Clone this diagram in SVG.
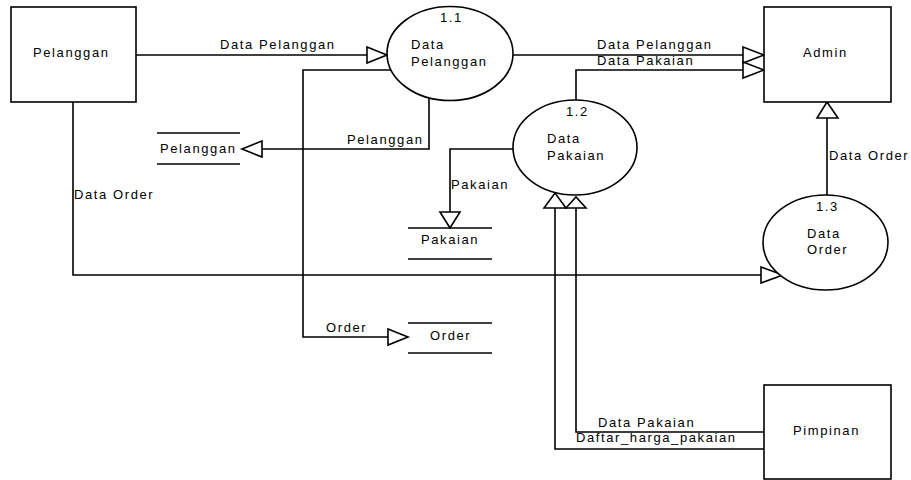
<svg xmlns="http://www.w3.org/2000/svg" width="911" height="480" viewBox="0 0 911 480">
<style>
.box{fill:#fff;stroke:#000;stroke-width:1.6}
.proc{fill:#fff;stroke:#000;stroke-width:1.6}
.ln{fill:none;stroke:#000;stroke-width:1.6}
.ah{fill:#fff;stroke:#000;stroke-width:1.6;stroke-linejoin:miter}
text{font-family:"Liberation Sans",Arial,sans-serif;font-size:13px;letter-spacing:1.6px;fill:#000}
</style>
<rect width="911" height="480" fill="#fff"/>
<g id="connectors">
<!-- Pelanggan -> 1.1 -->
<polyline class="ln" points="136,55 367,55"/>
<polygon class="ah" points="367,47 387,55 367,63"/>
<text x="220" y="49">Data Pelanggan</text>
<!-- 1.1 -> Admin -->
<polyline class="ln" points="513,55 743,55"/>
<polygon class="ah" points="743,47 764,55 743,63"/>
<text x="597" y="49">Data Pelanggan</text>
<!-- 1.2 -> Admin -->
<polyline class="ln" points="576,100 576,70 743,70"/>
<polygon class="ah" points="743,62 764,70 743,78"/>
<text x="597" y="65">Data Pakaian</text>
<!-- 1.1 -> Order store -->
<polyline class="ln" points="391,70 303,70 303,337 388,337"/>
<polygon class="ah" points="388,329 408,337 388,345"/>
<text x="326" y="332">Order</text>
<!-- 1.1 -> Pelanggan store -->
<polyline class="ln" points="429,98 429,149 262,149"/>
<polygon class="ah" points="262,141 242,149 262,157"/>
<text x="347" y="144">Pelanggan</text>
<!-- Pelanggan -> 1.3 -->
<polyline class="ln" points="73,102 73,275 761,275"/>
<polygon class="ah" points="761,267 783,275 761,283"/>
<text x="74" y="199">Data Order</text>
<!-- 1.3 -> Admin -->
<polyline class="ln" points="827,195 827,118"/>
<polygon class="ah" points="817,118 827,102 838,118"/>
<text x="829" y="160">Data Order</text>
<!-- 1.2 -> Pakaian store -->
<polyline class="ln" points="513,149 450,149 450,212"/>
<polygon class="ah" points="440,212 450,228 460,212"/>
<text x="451" y="189">Pakaian</text>
<!-- Pimpinan -> 1.2 (Data Pakaian) -->
<polyline class="ln" points="764,432 576,432 576,208"/>
<polygon class="ah" points="566,208 576,197 586,208"/>
<text x="598" y="427">Data Pakaian</text>
<!-- Pimpinan -> 1.2 (Daftar_harga_pakaian) -->
<polyline class="ln" points="764,449 555,449 555,208"/>
<polygon class="ah" points="544,208 555,193 566,208"/>
<text x="576" y="442">Daftar_harga_pakaian</text>
</g>
<g id="ext-pelanggan">
<rect class="box" x="11" y="7" width="125" height="95"/>
<text x="33" y="57">Pelanggan</text>
</g>
<g id="ext-admin">
<rect class="box" x="764" y="7" width="127" height="95"/>
<text x="803" y="57">Admin</text>
</g>
<g id="ext-pimpinan">
<rect class="box" x="764" y="385" width="127" height="94"/>
<text x="793" y="435">Pimpinan</text>
</g>
<g id="proc-1-1">
<ellipse class="proc" cx="450" cy="53.5" rx="63" ry="47"/>
<text x="440" y="22">1.1</text>
<text x="411" y="49">Data</text>
<text x="411" y="66">Pelanggan</text>
</g>
<g id="proc-1-2">
<ellipse class="proc" cx="575" cy="147.5" rx="62" ry="47.5"/>
<text x="566" y="116">1.2</text>
<text x="547" y="143">Data</text>
<text x="547" y="160">Pakaian</text>
</g>
<g id="proc-1-3">
<ellipse class="proc" cx="825.5" cy="242.5" rx="62.5" ry="47.5"/>
<text x="816" y="211">1.3</text>
<text x="807" y="238">Data</text>
<text x="807" y="254">Order</text>
</g>
<g id="store-pelanggan">
<line class="ln" x1="157" y1="133" x2="240" y2="133"/>
<line class="ln" x1="157" y1="164" x2="240" y2="164"/>
<text x="160" y="153">Pelanggan</text>
</g>
<g id="store-pakaian">
<line class="ln" x1="408" y1="228" x2="492" y2="228"/>
<line class="ln" x1="408" y1="259" x2="492" y2="259"/>
<text x="421" y="244">Pakaian</text>
</g>
<g id="store-order">
<line class="ln" x1="408" y1="323" x2="492" y2="323"/>
<line class="ln" x1="408" y1="353" x2="492" y2="353"/>
<text x="430" y="340">Order</text>
</g>
</svg>
